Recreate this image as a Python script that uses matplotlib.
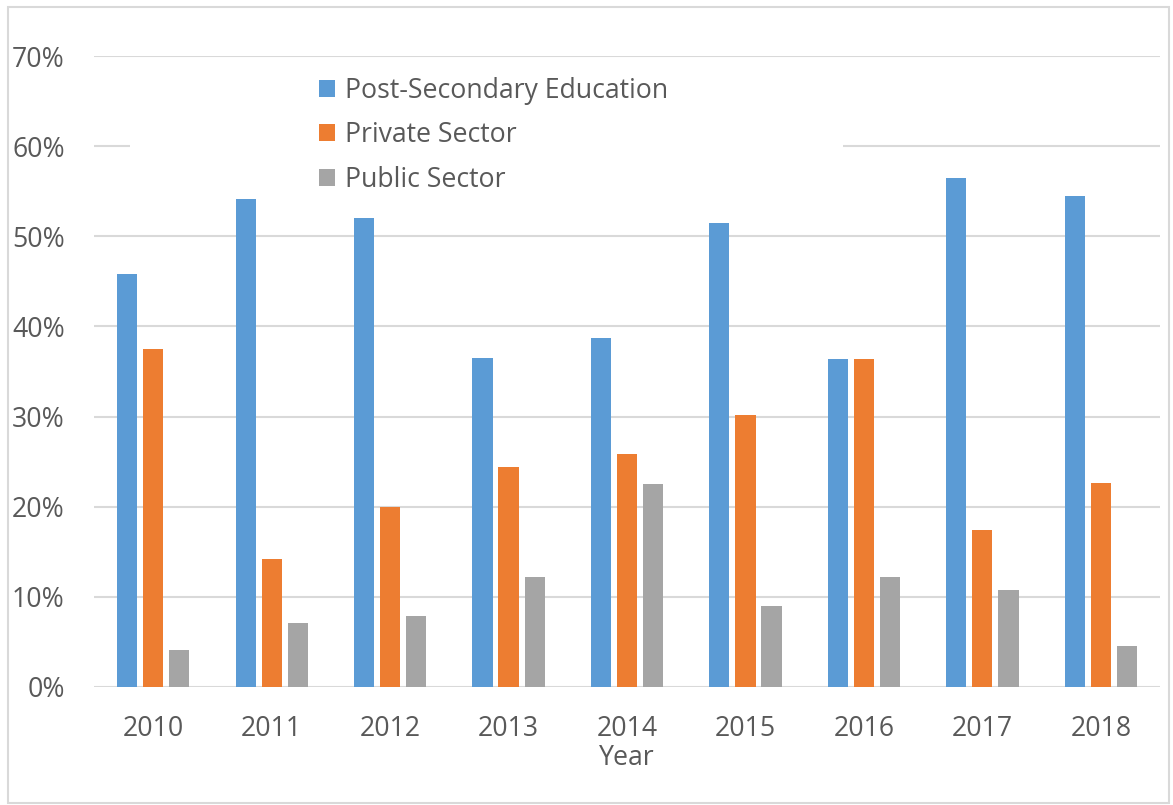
import matplotlib
matplotlib.use("Agg")
import matplotlib.pyplot as plt
from matplotlib.patches import Rectangle
from matplotlib.ticker import PercentFormatter
import numpy as np

# --------- dados ---------
years = ["2010", "2011", "2012", "2013", "2014", "2015", "2016", "2017", "2018"]
post_secondary = [45.8, 54.1, 52.0, 36.5, 38.7, 51.5, 36.4, 56.5, 54.5]
private_sector = [37.5, 14.2, 20.0, 24.4, 25.8, 30.2, 36.4, 17.4, 22.6]
public_sector = [4.1, 7.1, 7.9, 12.2, 22.5, 9.0, 12.2, 10.8, 4.6]

series_names = ["Post-Secondary Education", "Private Sector", "Public Sector"]
colors = ["#5B9BD5", "#ED7D31", "#A5A5A5"]

text_color = "#595959"
grid_color = "#D9D9D9"

plt.rcParams['font.family'] = ['Open Sans', 'DejaVu Sans']

fig = plt.figure(figsize=(11.73, 8.05), dpi=100)
ax = fig.add_axes([0.0801, 0.1466, 0.9089, 0.7838])

x = np.arange(len(years))
step = 0.22
width = 0.17
for i, (vals, name, c) in enumerate(zip([post_secondary, private_sector, public_sector],
                                         series_names, colors)):
    ax.bar(x + (i - 1) * step, vals, width=width, color=c, label=name, zorder=2)

ax.set_xlim(-0.5, len(years) - 0.5)
ax.set_ylim(0, 70)
ax.set_yticks(range(0, 71, 10))
ax.yaxis.set_major_formatter(PercentFormatter(decimals=0))
ax.set_xticks(x)
ax.set_xticklabels(years)

# grade horizontal estilo Excel
ax.set_axisbelow(True)
ax.grid(axis='y', color=grid_color, linewidth=1.5)
for s in ax.spines.values():
    s.set_visible(False)
ax.tick_params(axis='both', length=0, labelsize=19.2, colors=text_color)
ax.tick_params(axis='y', pad=21)
ax.tick_params(axis='x', pad=20)
ax.set_xlabel("Year", fontsize=19.2, color=text_color, labelpad=1)

# caixa branca da legenda (esconde a linha de 60%)
ax.add_patch(Rectangle((130 / 1173, 1 - 195 / 805), (843 - 130) / 1173, (195 - 64) / 805,
                       transform=fig.transFigure, facecolor='white', edgecolor='none',
                       zorder=1))

leg = ax.legend(loc='upper left', bbox_to_anchor=(300 / 1173, 1 - 58 / 805),
                bbox_transform=fig.transFigure, frameon=False, fontsize=19.2,
                handlelength=0.6, handleheight=0.6, handletextpad=0.4,
                labelspacing=0.62, borderpad=0.2)
for t in leg.get_texts():
    t.set_color(text_color)

# borda externa do gráfico
fig.patches.append(Rectangle((8 / 1173, 2 / 805), 1161 / 1173, 796 / 805,
                             transform=fig.transFigure, fill=False,
                             edgecolor=grid_color, linewidth=1.5))

fig.savefig("out.png", dpi=100)
